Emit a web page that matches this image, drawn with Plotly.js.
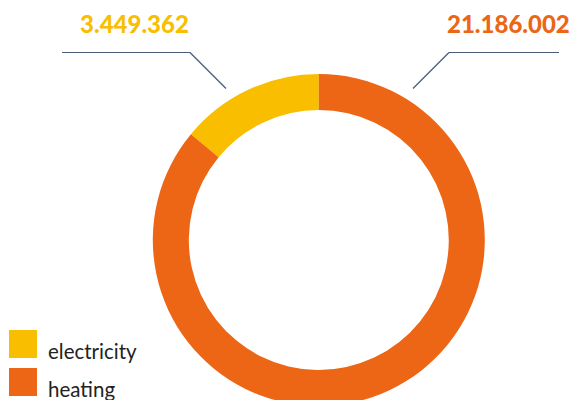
<!DOCTYPE html>
<html>
<head>
<meta charset="utf-8">
<script src="https://cdn.plot.ly/plotly-3.0.1.min.js"></script>
<style>
html,body{margin:0;padding:0;overflow:hidden;background:#fff;}
#chart{width:576px;height:420px;}
</style>
</head>
<body>
<div id="chart"></div>
<script>
var categories = ["electricity", "heating"];
var values = [3449362, 21186002];
var valueLabels = ["3.449.362", "21.186.002"];
var colors = ["#F9BE00", "#EC6615"];

var W = 576, H = 420;
function px(x){ return x / W; }
function py(y){ return (H - y) / H; }

var lineColor = "#4B5B78";
var total = values.reduce(function(a, b){ return a + b; }, 0);
var startRotation = -360 * values[0] / total;

var layout = {
  width: W, height: H,
  margin: {l:0, r:0, t:0, b:0},
  showlegend: false,
  paper_bgcolor: "#fff",
  plot_bgcolor: "#fff",
  shapes: [
    {type:"line", xref:"paper", yref:"paper", x0:px(62), y0:py(52.5), x1:px(190), y1:py(52.5), line:{color:lineColor, width:1.2}},
    {type:"line", xref:"paper", yref:"paper", x0:px(190), y0:py(52.5), x1:px(226), y1:py(88.5), line:{color:lineColor, width:1.2}},
    {type:"line", xref:"paper", yref:"paper", x0:px(413), y0:py(88.5), x1:px(449), y1:py(52.5), line:{color:lineColor, width:1.2}},
    {type:"line", xref:"paper", yref:"paper", x0:px(449), y0:py(52.5), x1:px(559), y1:py(52.5), line:{color:lineColor, width:1.2}},
    {type:"rect", xref:"paper", yref:"paper", x0:px(9), y0:py(330), x1:px(37), y1:py(358), fillcolor:colors[0], line:{width:0}},
    {type:"rect", xref:"paper", yref:"paper", x0:px(9), y0:py(368), x1:px(37), y1:py(396), fillcolor:colors[1], line:{width:0}}
  ],
  annotations: [
    {xref:"paper", yref:"paper", x:px(134), y:py(23), xanchor:"center", yanchor:"middle", showarrow:false,
     text:valueLabels[0], font:{family:"Lato", size:24, weight:900, color:colors[0]}},
    {xref:"paper", yref:"paper", x:px(508), y:py(23), xanchor:"center", yanchor:"middle", showarrow:false,
     text:valueLabels[1], font:{family:"Lato", size:24, weight:900, color:colors[1]}},
    {xref:"paper", yref:"paper", x:px(46), y:py(351), xanchor:"left", yanchor:"middle", showarrow:false,
     text:categories[0], font:{family:"Lato", size:20.5, color:"#222"}},
    {xref:"paper", yref:"paper", x:px(46), y:py(389), xanchor:"left", yanchor:"middle", showarrow:false,
     text:categories[1], font:{family:"Lato", size:20.5, color:"#222"}}
  ]
};

var trace = {
  type: "pie",
  labels: categories,
  values: values,
  hole: 0.783,
  sort: false,
  direction: "clockwise",
  rotation: startRotation,
  textinfo: "none",
  hoverinfo: "label+value",
  marker: {colors: colors, line:{width:0}},
  domain: {x:[px(318.8-166), px(318.8+166)], y:[py(406), py(74)]}
};

Plotly.newPlot("chart", [trace], layout, {displayModeBar:false, staticPlot:true});
</script>
</body>
</html>
